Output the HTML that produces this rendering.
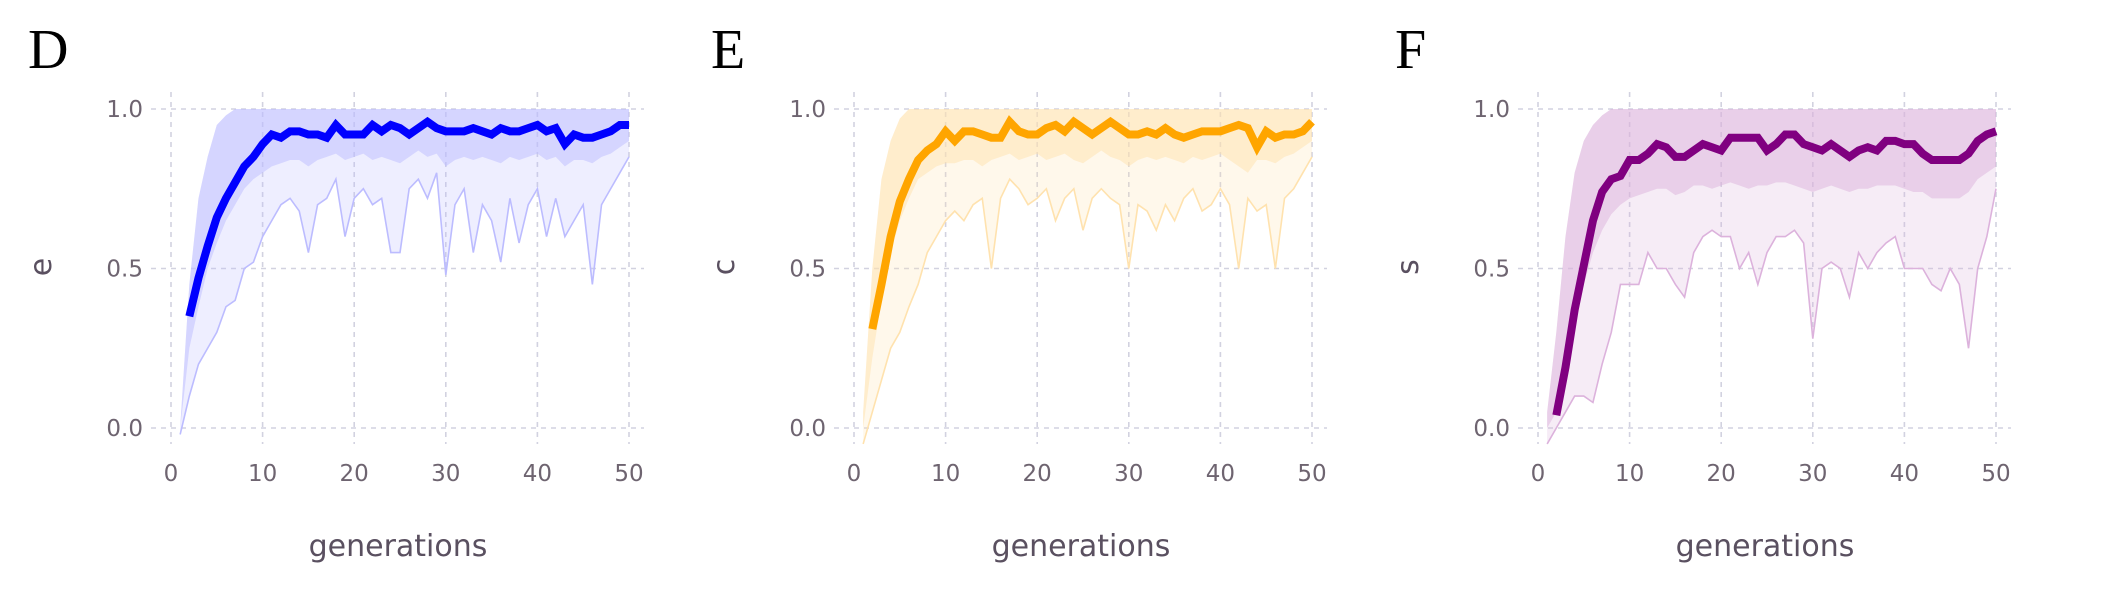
<!DOCTYPE html>
<html><head><meta charset="utf-8"><style>
body{margin:0;background:#fff}
svg{display:block}
text{font-family:"DejaVu Sans","Liberation Sans",sans-serif}
text.letter{font-family:"Liberation Serif",serif}
</style></head><body>
<svg id="fig" width="2110" height="608" viewBox="0 0 2110 608" xmlns="http://www.w3.org/2000/svg"></svg>
<script>
const xTicks=[0,10,20,30,40,50];
const yTicks=[0.0,0.5,1.0];
const yTickLabels=["0.0","0.5","1.0"];
const panelLetters=["D","E","F"];
const yLabels=["e","c","s"];
const gensMean=[2,3,4,5,6,7,8,9,10,11,12,13,14,15,16,17,18,19,20,21,22,23,24,25,26,27,28,29,30,31,32,33,34,35,36,37,38,39,40,41,42,43,44,45,46,47,48,49,50];
const gensRun=[1,2,3,4,5,6,7,8,9,10,11,12,13,14,15,16,17,18,19,20,21,22,23,24,25,26,27,28,29,30,31,32,33,34,35,36,37,38,39,40,41,42,43,44,45,46,47,48,49,50];
const meanD=[0.35,0.47,0.57,0.66,0.72,0.77,0.82,0.85,0.89,0.92,0.91,0.93,0.93,0.92,0.92,0.91,0.95,0.92,0.92,0.92,0.95,0.93,0.95,0.94,0.92,0.94,0.96,0.94,0.93,0.93,0.93,0.94,0.93,0.92,0.94,0.93,0.93,0.94,0.95,0.93,0.94,0.89,0.92,0.91,0.91,0.92,0.93,0.95,0.95];
const meanE=[0.31,0.45,0.60,0.71,0.78,0.84,0.87,0.89,0.93,0.90,0.93,0.93,0.92,0.91,0.91,0.96,0.93,0.92,0.92,0.94,0.95,0.93,0.96,0.94,0.92,0.94,0.96,0.94,0.92,0.92,0.93,0.92,0.94,0.92,0.91,0.92,0.93,0.93,0.93,0.94,0.95,0.94,0.88,0.93,0.91,0.92,0.92,0.93,0.96];
const meanF=[0.04,0.19,0.37,0.51,0.65,0.74,0.78,0.79,0.84,0.84,0.86,0.89,0.88,0.85,0.85,0.87,0.89,0.88,0.87,0.91,0.91,0.91,0.91,0.87,0.89,0.92,0.92,0.89,0.88,0.87,0.89,0.87,0.85,0.87,0.88,0.87,0.90,0.90,0.89,0.89,0.86,0.84,0.84,0.84,0.84,0.86,0.90,0.92,0.93];
const upperD=[0,0.45,0.72,0.85,0.95,0.98,1,1,1,1,1,1,1,1,1,1,1,1,1,1,1,1,1,1,1,1,1,1,1,1,1,1,1,1,1,1,1,1,1,1,1,1,1,1,1,1,1,1,1,1];
const upperE=[0.05,0.5,0.78,0.9,0.97,1,1,1,1,1,1,1,1,1,1,1,1,1,1,1,1,1,1,1,1,1,1,1,1,1,1,1,1,1,1,1,1,1,1,1,1,1,1,1,1,1,1,1,1,1];
const upperF=[0.05,0.3,0.6,0.8,0.9,0.95,0.98,1,1,1,1,1,1,1,1,1,1,1,1,1,1,1,1,1,1,1,1,1,1,1,1,1,1,1,1,1,1,1,1,1,1,1,1,1,1,1,1,1,1,1];
const denseD=[0,0.25,0.38,0.5,0.58,0.65,0.7,0.75,0.78,0.8,0.82,0.83,0.84,0.84,0.82,0.84,0.85,0.86,0.84,0.85,0.86,0.84,0.85,0.84,0.83,0.85,0.87,0.85,0.86,0.82,0.84,0.85,0.84,0.85,0.84,0.83,0.85,0.84,0.85,0.86,0.84,0.85,0.82,0.84,0.84,0.83,0.85,0.86,0.88,0.9];
const denseE=[0,0.22,0.4,0.55,0.65,0.72,0.78,0.8,0.82,0.83,0.83,0.84,0.84,0.82,0.84,0.85,0.86,0.84,0.85,0.86,0.84,0.85,0.86,0.84,0.83,0.85,0.87,0.85,0.84,0.82,0.84,0.85,0.84,0.85,0.84,0.83,0.85,0.84,0.85,0.86,0.84,0.82,0.8,0.84,0.84,0.83,0.85,0.86,0.88,0.9];
const denseF=[0,0.05,0.2,0.35,0.45,0.55,0.62,0.67,0.7,0.72,0.73,0.74,0.75,0.75,0.73,0.74,0.76,0.76,0.75,0.76,0.77,0.76,0.75,0.76,0.76,0.77,0.77,0.76,0.75,0.74,0.75,0.76,0.75,0.74,0.75,0.75,0.76,0.76,0.76,0.75,0.74,0.74,0.72,0.72,0.72,0.72,0.74,0.78,0.8,0.82];
const minD=[-0.02,0.1,0.2,0.25,0.3,0.38,0.4,0.5,0.52,0.6,0.65,0.7,0.72,0.68,0.55,0.7,0.72,0.78,0.6,0.72,0.75,0.7,0.72,0.55,0.55,0.75,0.78,0.72,0.8,0.48,0.7,0.75,0.55,0.7,0.65,0.52,0.72,0.58,0.7,0.75,0.6,0.72,0.6,0.65,0.7,0.45,0.7,0.75,0.8,0.85];
const minE=[-0.05,0.05,0.15,0.25,0.3,0.38,0.45,0.55,0.6,0.65,0.68,0.65,0.7,0.72,0.5,0.72,0.78,0.75,0.7,0.72,0.75,0.65,0.72,0.75,0.62,0.72,0.75,0.72,0.7,0.5,0.7,0.68,0.62,0.7,0.65,0.72,0.75,0.68,0.7,0.75,0.7,0.5,0.72,0.68,0.7,0.5,0.72,0.75,0.8,0.85];
const minF=[-0.05,0.0,0.05,0.1,0.1,0.08,0.2,0.3,0.45,0.45,0.45,0.55,0.5,0.5,0.45,0.41,0.55,0.6,0.62,0.6,0.6,0.5,0.55,0.45,0.55,0.6,0.6,0.62,0.58,0.28,0.5,0.52,0.5,0.41,0.55,0.5,0.55,0.58,0.6,0.5,0.5,0.5,0.45,0.43,0.5,0.45,0.25,0.5,0.6,0.75];

const panels=[
 {x0:171,mean:meanD,up:upperD,dense:denseD,min:minD,main:"#0000ff",light:"#bcbcff"},
 {x0:854,mean:meanE,up:upperE,dense:denseE,min:minE,main:"#ffa500",light:"#ffe2ae"},
 {x0:1538,mean:meanF,up:upperF,dense:denseF,min:minF,main:"#800080",light:"#dcb2dc"}
];
const W=458, Y1=109, Y0=428;
const svg=document.getElementById('fig');
const NS="http://www.w3.org/2000/svg";
function mk(tag,attrs,parent){const e=document.createElementNS(NS,tag);for(const k in attrs)e.setAttribute(k,attrs[k]);(parent||svg).appendChild(e);return e;}
panels.forEach((p,i)=>{
 const sx=g=>p.x0+g/50*W;
 const sy=v=>Y0-v*(Y0-Y1);
 const g=mk('g',{});
 
 
 yTicks.forEach((t,k)=>{
  const l=mk('line',{x1:p.x0-20,x2:p.x0+W+15,y1:sy(t),y2:sy(t),stroke:"#d2d2e0","stroke-width":1.6,"stroke-dasharray":"5 5"},g);
  
  
  const tx=mk('text',{x:p.x0-28,y:sy(t)+8,"text-anchor":"end","font-size":23,fill:"#6e6470"},g);
  tx.textContent=yTickLabels[k];
  
  
 });
 xTicks.forEach(t=>{
  const l=mk('line',{x1:sx(t),x2:sx(t),y1:Y1-17,y2:Y0+16,stroke:"#d2d2e0","stroke-width":1.6,"stroke-dasharray":"5 5"},g);
  
  
  const tx=mk('text',{x:sx(t),y:481,"text-anchor":"middle","font-size":23,fill:"#6e6470"},g);
  tx.textContent=String(t);
  
  
 });
 let d="M"+gensRun.map((gg,k)=>sx(gg)+","+sy(p.up[k])).join("L");
 d+="L"+gensRun.slice().reverse().map((gg,k)=>sx(gg)+","+sy(p.min[p.min.length-1-k])).join("L")+"Z";
 const env=mk('path',{d:d,fill:p.light,"fill-opacity":0.25},g);
 
 
 let d2="M"+gensRun.map((gg,k)=>sx(gg)+","+sy(p.up[k])).join("L");
 d2+="L"+gensRun.slice().reverse().map((gg,k)=>sx(gg)+","+sy(p.dense[p.dense.length-1-k])).join("L")+"Z";
 const dn=mk('path',{d:d2,fill:p.light,"fill-opacity":0.5},g);
 
 
 const mn=mk('polyline',{points:gensRun.map((gg,k)=>sx(gg)+","+sy(p.min[k])).join(" "),fill:"none",stroke:p.light,"stroke-width":1.6},g);
 
 
 const ml=mk('polyline',{points:gensMean.map((gg,k)=>sx(gg)+","+sy(p.mean[k])).join(" "),fill:"none",stroke:p.main,"stroke-width":8,"stroke-linejoin":"miter"},g);
 
 
 const yl=mk('text',{x:0,y:0,"text-anchor":"middle","font-size":30,fill:"#5a5060",transform:`translate(${p.x0-120},267) rotate(-90)`},g);
 yl.textContent=yLabels[i];
 
 
 const xl=mk('text',{x:p.x0+W/2-2,y:556,"text-anchor":"middle","font-size":30,fill:"#5a5060"},g);
 xl.textContent="generations";
 
 
 const pl=mk('text',{x:p.x0-143,y:68,"font-size":56,fill:"#000","class":"letter"},g);
 pl.textContent=panelLetters[i];
 
 
});
</script>
</body></html>
